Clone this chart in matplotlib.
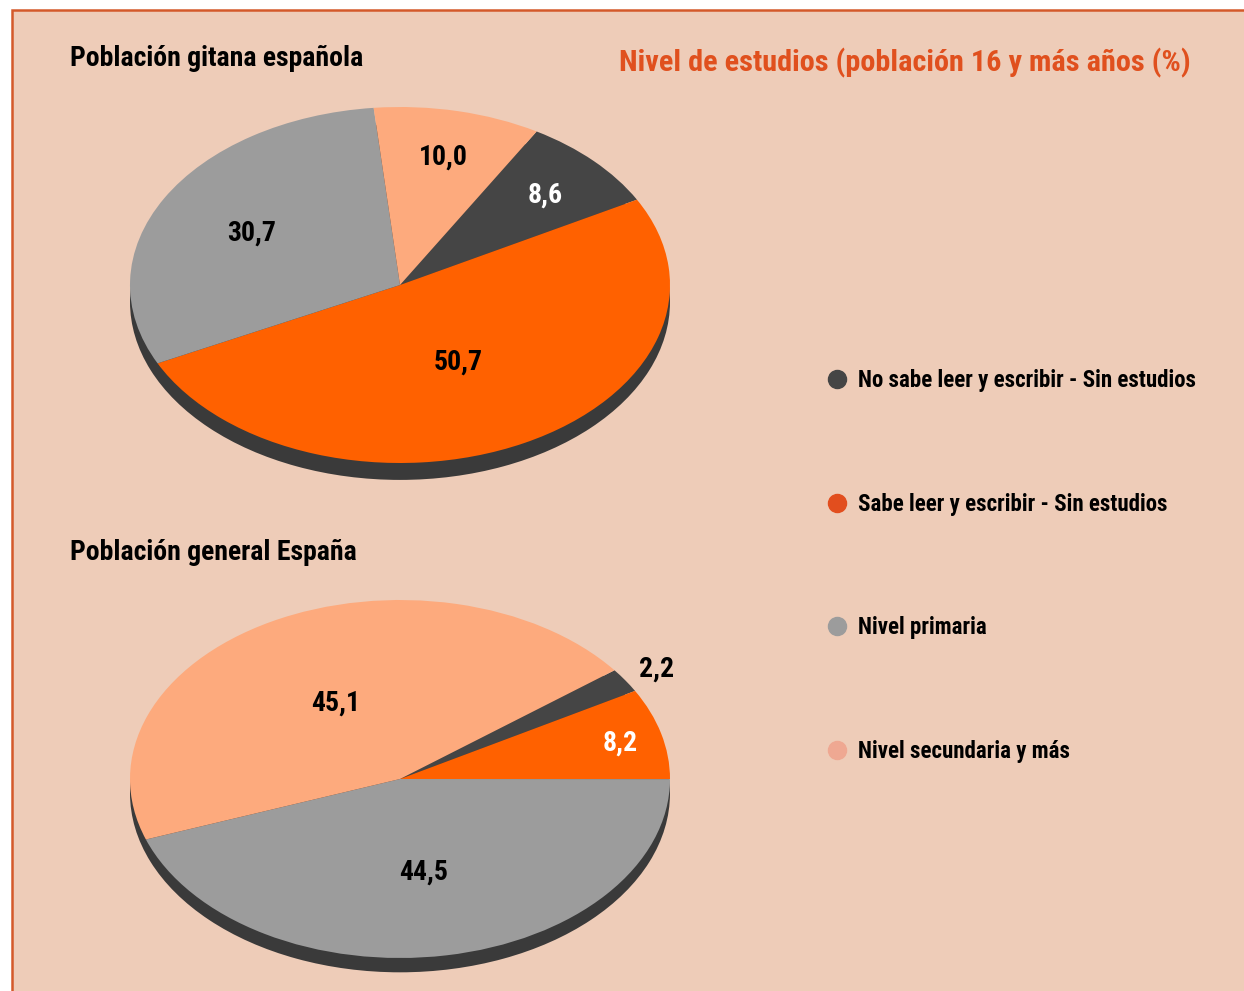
import numpy as np
import matplotlib
matplotlib.use("Agg")
import matplotlib.pyplot as plt
from matplotlib.patches import Rectangle
from matplotlib.lines import Line2D
from matplotlib import font_manager

# ---------------- data ----------------
categories = ["No sabe leer y escribir - Sin estudios",
              "Sabe leer y escribir - Sin estudios",
              "Nivel primaria",
              "Nivel secundaria y más"]
gitana_values = [8.6, 50.7, 30.7, 10.0]
general_values = [2.2, 8.2, 44.5, 45.1]
gitana_labels = ["8,6", "50,7", "30,7", "10,0"]
general_labels = ["2,2", "8,2", "44,5", "45,1"]
title_main = "Nivel de estudios (población 16 y más años (%)"
title_gitana = "Población gitana española"
title_general = "Población general España"

# ---------------- style ----------------
W, H = 1244, 991
DPI = 100
pie_colors = ["#454545", "#FF6100", "#9C9C9C", "#FDAA7D"]
legend_colors = ["#454545", "#E24E1E", "#9C9C9C", "#EFA892"]
bg = "#EECCB8"
border = "#D4592A"
shadow = "#3A3A3A"

names = {f.name for f in font_manager.fontManager.ttflist}
fam = []
for cand in ["Roboto Condensed", "Liberation Sans Narrow", "Open Sans Condensed", "Liberation Sans"]:
    if cand in names:
        fam.append(cand)
fam.append("DejaVu Sans")
plt.rcParams["font.family"] = fam

fig = plt.figure(figsize=(W / DPI, H / DPI), dpi=DPI, facecolor="white")
fig.patches.append(Rectangle((12 / W, -0.05), 1.1, (H - 10) / H + 0.05,
                             transform=fig.transFigure, facecolor=bg,
                             edgecolor=border, linewidth=1.8, zorder=-5))


def px_axes(cx, cy, rx, ry, extra_bottom):
    left = (cx - rx) / W
    width = 2 * rx / W
    top = cy - ry
    bottom_px = cy + ry * (1 + extra_bottom)
    ax = fig.add_axes([left, (H - bottom_px) / H, width, (bottom_px - top) / H])
    ax.set_zorder(2)
    ax.patch.set_visible(False)
    return ax


def draw_pie(ax, values, labels, startangle, depth, label_r, label_colors):
    ax.pie([1], colors=[shadow], radius=1, center=(0, -depth),
           wedgeprops=dict(linewidth=0), frame=True)
    wedges, _ = ax.pie(values, colors=pie_colors, startangle=startangle,
                       counterclock=False, radius=1,
                       wedgeprops=dict(linewidth=0), frame=True)
    ax.set_xlim(-1, 1)
    ax.set_ylim(-1 - 0.15, 1)
    ax.set_aspect("auto")
    ax.axis("off")
    for w, lab, r, c in zip(wedges, labels, label_r, label_colors):
        ang = np.deg2rad((w.theta1 + w.theta2) / 2)
        ax.text(r * np.cos(ang), r * np.sin(ang), lab, ha="center",
                va="center_baseline", fontsize=20, fontweight="bold", color=c)
    return wedges


ax1 = px_axes(400, 285, 270, 178, 0.15)
draw_pie(ax1, gitana_values, gitana_labels, 59.6, 0.095,
         [0.75, 0.47, 0.63, 0.75], ["white", "black", "black", "black"])

ax2 = px_axes(400, 779, 270, 179, 0.15)
draw_pie(ax2, general_values, general_labels, 37.4, 0.08,
         [1.14, 0.845, 0.51, 0.50], ["black", "white", "black", "black"])

fig.text(70 / W, 1 - 59 / H, title_gitana, fontsize=20, fontweight="bold",
         ha="left", va="center")
fig.text(70 / W, 1 - 553 / H, title_general, fontsize=20, fontweight="bold",
         ha="left", va="center")
fig.text(1191 / W, 1 - 63 / H, title_main, fontsize=21.8, fontweight="bold",
         color="#E0501E", ha="right", va="center")

handles = [Line2D([], [], linestyle="none", marker="o", markersize=13,
                  markerfacecolor=c, markeredgecolor=c) for c in legend_colors]
fig.legend(handles, categories, loc="upper left",
           bbox_to_anchor=(828 / W, 1 - 369 / H), frameon=False,
           labelspacing=4.39, handlelength=0.8,
           handletextpad=0.5, borderaxespad=0, borderpad=0,
           prop=dict(weight="bold", size=16.5))

fig.savefig("out.png", dpi=DPI, facecolor="white")
